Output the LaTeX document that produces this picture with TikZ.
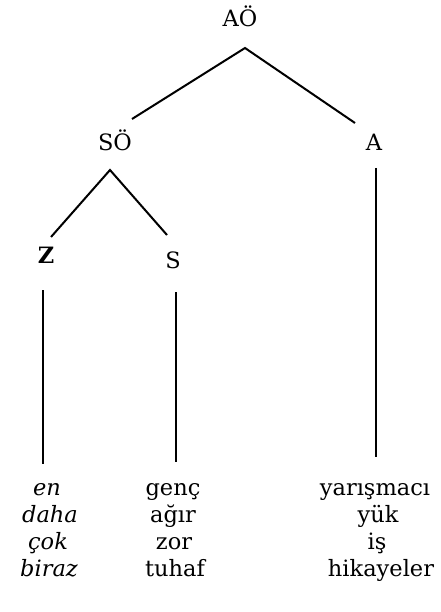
\documentclass[tikz,border=0pt]{standalone}
\usepackage{fontspec}
\setmainfont{DejaVu Serif}
\begin{document}
\begin{tikzpicture}[x=1pt,y=-1pt,
  lab/.style={inner sep=0pt,anchor=base,font=\fontsize{22.5}{26}\selectfont,text=black},
  ital/.style={lab,font=\fontsize{22.5}{26}\selectfont\itshape},
  edge/.style={line width=2pt,black}]
\useasboundingbox (0,0) rectangle (440,612);
% labels
\node[lab] (AO) at (240,27) {AÖ};
\node[lab] (SO) at (115,151) {SÖ};
\node[lab] (A)  at (374,151) {A};
\node[lab,font=\fontsize{22.5}{26}\selectfont\bfseries] (Z) at (46,263) {Z};
\node[lab] (S)  at (173,268) {S};
% words
\node[ital] (w1) at (47,495) {en};
\node[ital] (w2) at (50,522) {daha};
\node[ital] (w3) at (48,549) {çok};
\node[ital] (w4) at (49,576) {biraz};
\node[lab] (g1) at (173,495) {genç};
\node[lab] (g2) at (173,522) {ağır};
\node[lab] (g3) at (174,549) {zor};
\node[lab] (g4) at (175,576) {tuhaf};
\node[lab] (n1) at (375,495) {yarışmacı};
\node[lab] (n2) at (378,522) {yük};
\node[lab] (n3) at (377,549) {iş};
\node[lab] (n4) at (381,576) {hikayeler};
% connector end points
\coordinate (AOb) at (245,48);
\coordinate (SOt) at (132,119);
\coordinate (At)  at (355,123);
\coordinate (SOb) at (110,170);
\coordinate (Zt)  at (51,237);
\coordinate (St)  at (167,235);
\coordinate (Zb)  at (43,290);
\coordinate (Ze)  at (43,464);
\coordinate (Sb)  at (176,292);
\coordinate (Se)  at (176,462);
\coordinate (Ab)  at (376,168);
\coordinate (Ae)  at (376,457);
% connectors
\draw[edge] (SOt) -- (AOb) -- (At);
\draw[edge] (Zt) -- (SOb) -- (St);
\draw[edge] (Zb) -- (Ze);
\draw[edge] (Sb) -- (Se);
\draw[edge] (Ab) -- (Ae);
\end{tikzpicture}
\end{document}
